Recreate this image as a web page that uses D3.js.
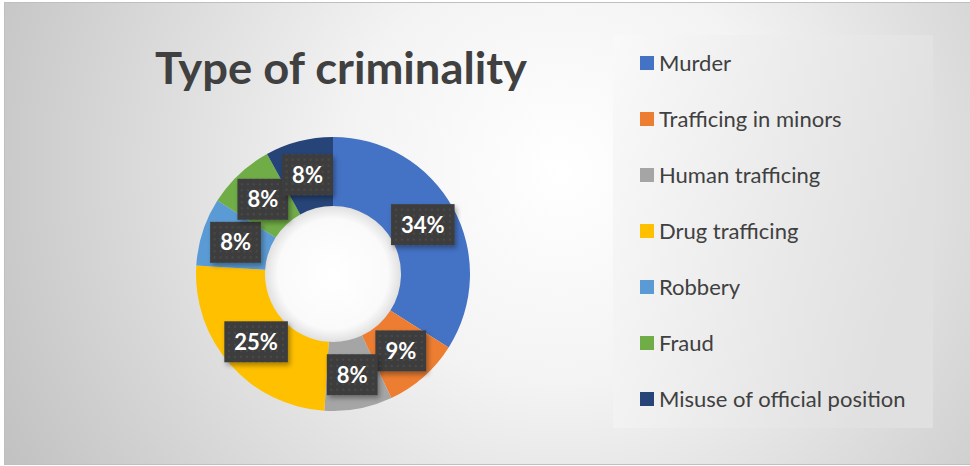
<!DOCTYPE html>
<html>
<head>
<meta charset="utf-8">
<script src="https://cdn.jsdelivr.net/npm/d3@7"></script>
<style>
  html, body { margin: 0; padding: 0; background: #ffffff; }
  svg { display: block; }
</style>
</head>
<body>
<svg id="chart"></svg>
<script>
// Chart data
const categories = [
  "Murder",
  "Trafficing in minors",
  "Human trafficing",
  "Drug trafficing",
  "Robbery",
  "Fraud",
  "Misuse of official position"
];
const shares = [34, 9, 8, 25, 8, 8, 8];
const sliceColors = ["#4472C4", "#ED7D31", "#A5A5A5", "#FFC000", "#5B9BD5", "#70AD47", "#264478"];
const chartTitle = "Type of criminality";

const width = 970;
const height = 466;
const cx = 333;
const cy = 274;
const outerR = 137;
const innerR = 68;

const svg = d3.select("#chart").attr("width", width).attr("height", height);
const defs = svg.append("defs");

// Background radial gradient for the chart area
const bg = defs.append("radialGradient")
  .attr("id", "bg-grad")
  .attr("gradientUnits", "userSpaceOnUse")
  .attr("cx", 560).attr("cy", 170).attr("r", 620);
bg.append("stop").attr("offset", "0%").attr("stop-color", "#ffffff");
bg.append("stop").attr("offset", "35%").attr("stop-color", "#f3f3f3");
bg.append("stop").attr("offset", "100%").attr("stop-color", "#c2c2c2");

// Legend panel gradient
const lg = defs.append("linearGradient")
  .attr("id", "legend-grad")
  .attr("x1", 0).attr("y1", 0).attr("x2", 1).attr("y2", 0.3);
lg.append("stop").attr("offset", "0%").attr("stop-color", "#f9f9f9");
lg.append("stop").attr("offset", "100%").attr("stop-color", "#e0e0e0");

// Hole shading
const hole = defs.append("radialGradient").attr("id", "hole-grad");
hole.append("stop").attr("offset", "0%").attr("stop-color", "#ffffff");
hole.append("stop").attr("offset", "80%").attr("stop-color", "#fafafa");
hole.append("stop").attr("offset", "100%").attr("stop-color", "#dedede");

// Dotted pattern for the label boxes
const pat = defs.append("pattern")
  .attr("id", "dots")
  .attr("patternUnits", "userSpaceOnUse")
  .attr("width", 6).attr("height", 6);
pat.append("rect").attr("width", 6).attr("height", 6).attr("fill", "#3d3d3d");
pat.append("rect").attr("x", 2).attr("y", 2).attr("width", 2).attr("height", 2).attr("fill", "#4a4a4a");

// Drop shadow
const shadow = defs.append("filter")
  .attr("id", "shadow")
  .attr("x", "-30%").attr("y", "-30%").attr("width", "160%").attr("height", "160%");
shadow.append("feDropShadow")
  .attr("dx", 2).attr("dy", 3).attr("stdDeviation", 2.5)
  .attr("flood-color", "#000").attr("flood-opacity", 0.35);

// Chart area
svg.append("rect")
  .attr("x", 4.5).attr("y", 2.5)
  .attr("width", width).attr("height", 462)
  .attr("fill", "url(#bg-grad)")
  .attr("stroke", "#bfbfbf").attr("stroke-width", 1);

// Title
svg.append("text")
  .attr("x", 341).attr("y", 84)
  .attr("text-anchor", "middle")
  .attr("font-family", "Lato, 'Open Sans', sans-serif")
  .attr("font-weight", 700)
  .attr("font-size", 44)
  .attr("fill", "#404040")
  .attr("textLength", 372)
  .attr("lengthAdjust", "spacingAndGlyphs")
  .text(chartTitle);

// Donut
const data = categories.map((c, i) => ({ name: c, value: shares[i], color: sliceColors[i] }));
const pie = d3.pie().value(d => d.value).sort(null);
const arcs = pie(data);
const arc = d3.arc().innerRadius(innerR).outerRadius(outerR);
const labelArc = d3.arc().innerRadius((innerR + outerR) / 2).outerRadius((innerR + outerR) / 2);

const g = svg.append("g").attr("transform", `translate(${cx},${cy})`);

g.append("circle").attr("r", innerR + 1).attr("fill", "url(#hole-grad)");

g.selectAll("path.slice")
  .data(arcs)
  .enter()
  .append("path")
  .attr("class", "slice")
  .attr("d", arc)
  .attr("fill", d => d.data.color);

// Data labels
const labels = g.selectAll("g.label")
  .data(arcs)
  .enter()
  .append("g")
  .attr("class", "label")
  .attr("transform", d => `translate(${labelArc.centroid(d)})`);

labels.append("rect").attr("fill", "url(#dots)").attr("filter", "url(#shadow)");
labels.append("text")
  .attr("text-anchor", "middle")
  .attr("dy", "0.36em")
  .attr("font-family", "Lato, 'Open Sans', sans-serif")
  .attr("font-weight", 700)
  .attr("font-size", 22)
  .attr("fill", "#ffffff")
  .text(d => d.data.value + "%");

labels.each(function () {
  const t = d3.select(this).select("text").node();
  const w = t.getComputedTextLength() + 20;
  d3.select(this).select("rect")
    .attr("x", -w / 2).attr("y", -20.5)
    .attr("width", w).attr("height", 41);
});

// Legend
svg.append("rect")
  .attr("x", 613).attr("y", 35)
  .attr("width", 320).attr("height", 393)
  .attr("fill", "url(#legend-grad)");

const ly = d3.scalePoint().domain(categories).range([63, 399]);
const legend = svg.selectAll("g.legend-item")
  .data(data)
  .enter()
  .append("g")
  .attr("class", "legend-item")
  .attr("transform", d => `translate(640,${ly(d.name)})`);

legend.append("rect")
  .attr("x", 0).attr("y", -7)
  .attr("width", 14).attr("height", 14)
  .attr("fill", d => d.color);

legend.append("text")
  .attr("x", 19).attr("y", 0)
  .attr("dy", "0.35em")
  .attr("font-family", "Lato, 'Open Sans', sans-serif")
  .attr("font-size", 22)
  .attr("fill", "#404040")
  .text(d => d.name);
</script>
</body>
</html>
